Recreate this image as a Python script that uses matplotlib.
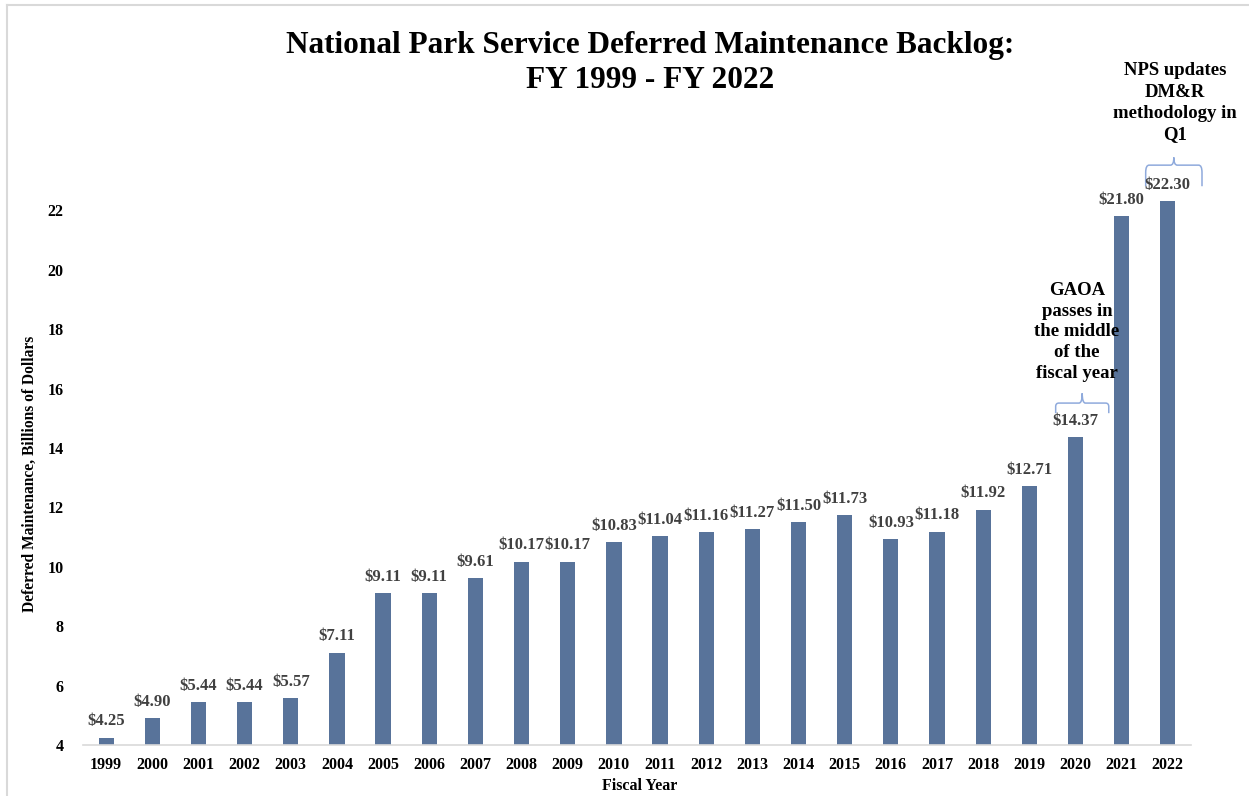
import matplotlib.pyplot as plt
from matplotlib.path import Path
from matplotlib.patches import PathPatch
from matplotlib.lines import Line2D

years = [str(y) for y in range(1999, 2023)]
backlog = [4.25, 4.90, 5.44, 5.44, 5.57, 7.11, 9.11, 9.11, 9.61, 10.17, 10.17, 10.83,
           11.04, 11.16, 11.27, 11.50, 11.73, 10.93, 11.18, 11.92, 12.71, 14.37, 21.80, 22.30]
yticks = [4, 6, 8, 10, 12, 14, 16, 18, 20, 22]

plt.rcParams['font.family'] = ['Liberation Serif', 'DejaVu Serif']
plt.rcParams['font.weight'] = 'bold'

fig = plt.figure(figsize=(12.49, 7.96), dpi=100)
ax = fig.add_axes([0.0665, 0.0641, 0.887, 0.765])

x = list(range(len(years)))
ax.bar(x, backlog, width=0.33, color='#58739a', bottom=0)
ax.set_xlim(-0.5, len(years) - 0.5)
ax.set_ylim(4, 24.5)

for i, v in enumerate(backlog):
    ax.annotate('$%.2f' % v, (i, v), xytext=(0, 6), textcoords='offset points',
                ha='center', va='bottom', fontsize=12, fontweight='bold', color='#404040')

ax.set_xticks(x)
ax.set_xticklabels(years, fontsize=11.5, fontweight='bold')
ax.set_yticks(yticks)
ax.set_yticklabels([str(t) for t in yticks], fontsize=11.5, fontweight='bold')
ax.tick_params(axis='x', length=0, pad=9)
ax.tick_params(axis='y', length=0, pad=14)
for s in ['top', 'right', 'left']:
    ax.spines[s].set_visible(False)
ax.spines['bottom'].set_color('#d9d9d9')
ax.spines['bottom'].set_linewidth(1.2)

fig.text(0.512, 0.012, 'Fiscal Year', ha='center', va='center', fontsize=11.5, fontweight='bold')
fig.text(30 / 1249, 1 - 474 / 796, 'Deferred Maintenance, Billions of Dollars', rotation=90,
         ha='center', va='center', fontsize=11.2, fontweight='bold')


def brace(x0, x1, y0, y1, ytip):
    xm = (x0 + x1) / 2
    r = (x1 - x0) * 0.06
    h = (y1 - y0) * 0.35
    verts = [(x0, y0), (x0, y1 - h), (x0, y1), (x0 + r, y1),
             (xm - r, y1), (xm, y1), (xm, ytip),
             (xm, y1), (xm + r, y1),
             (x1 - r, y1), (x1, y1), (x1, y1 - h), (x1, y0)]
    codes = [Path.MOVETO, Path.LINETO, Path.CURVE3, Path.CURVE3,
             Path.LINETO, Path.CURVE3, Path.CURVE3,
             Path.CURVE3, Path.CURVE3,
             Path.LINETO, Path.CURVE3, Path.CURVE3, Path.LINETO]
    ax.add_patch(PathPatch(Path(verts, codes), fill=False, edgecolor='#8faadc', lw=1.1, clip_on=False))


brace(20.57, 21.72, 15.17, 15.51, 15.84)
brace(22.52, 23.74, 22.81, 23.52, 23.78)

ax.text(21.03, 19.58, 'GAOA\npasses in\nthe middle\nof the\nfiscal year', ha='center', va='top',
        fontsize=13.5, fontweight='bold', linespacing=1.28)
ax.text(23.15, 26.98, 'NPS updates\nDM&R\nmethodology in\nQ1', ha='center', va='top',
        fontsize=13.5, fontweight='bold', linespacing=1.33, clip_on=False)

fig.text(650 / 1249, 1 - 63 / 796, 'National Park Service Deferred Maintenance Backlog:\nFY 1999 - FY 2022',
         ha='center', va='center', fontsize=22.5, fontweight='bold', linespacing=1.3)

fig.add_artist(Line2D([7 / 1249, 7 / 1249], [0, 1 - 5 / 796], color='#d9d9d9', lw=1.5))
fig.add_artist(Line2D([7 / 1249, 1], [1 - 5 / 796, 1 - 5 / 796], color='#d9d9d9', lw=1.5))

fig.savefig('out.png', dpi=100)
